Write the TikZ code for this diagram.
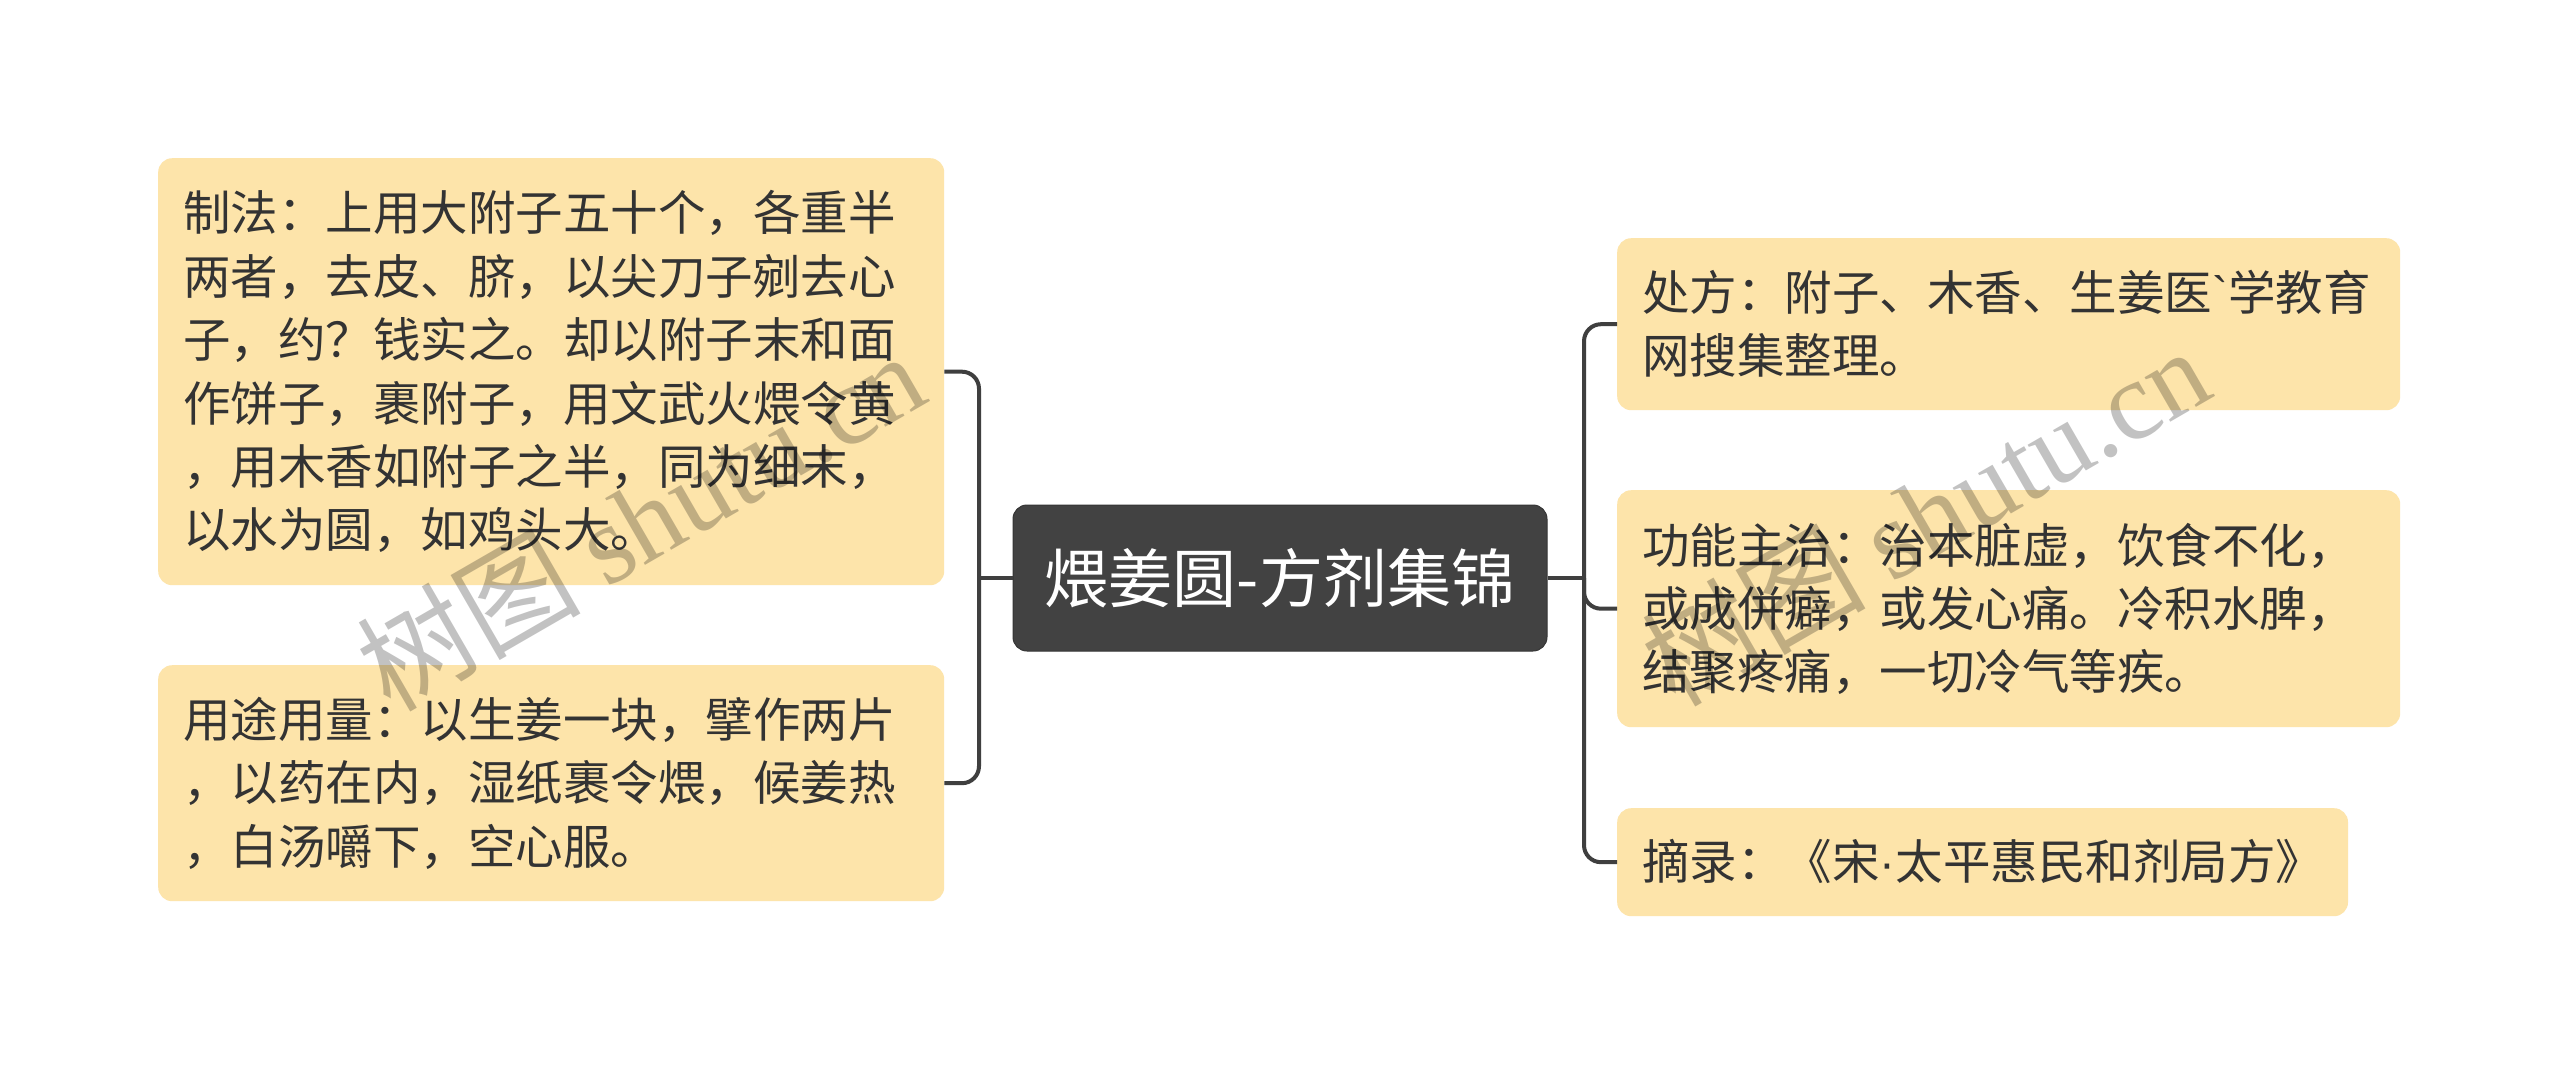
\documentclass[tikz,border=0pt]{standalone}
\usepackage{fontspec}
\usepackage{xcolor}

\newfontfamily\cjk{Noto Sans CJK SC}
\newfontfamily\wmfont{Liberation Serif}
\newfontfamily\narrow{Liberation Sans}

\definecolor{boxfill}{HTML}{FDE4AA}
\definecolor{titlefill}{HTML}{424242}
\definecolor{linkgray}{HTML}{3F3F3F}
\definecolor{inkgray}{HTML}{333333}

% one line slot
\newcommand\ls{\rule[-14pt]{0pt}{63.4pt}}

\begin{document}
\begin{tikzpicture}[x=1pt,y=-1pt,
  leaf/.style={fill=boxfill, rounded corners=14pt, anchor=north west,
    align=left, inner xsep=25pt, inner ysep=0pt, text=inkgray,
    font=\fontsize{47.5}{63.4}\cjk},
  title/.style={fill=titlefill, draw=titlefill!80!black, line width=1pt,
    rounded corners=14pt, text=white, minimum width=534pt,
    minimum height=146pt, font=\fontsize{64}{72}\cjk},
  link/.style={draw=linkgray, line width=4pt, rounded corners=17pt},
  wmark/.style={text=black, opacity=0.24, rotate=30,
    font=\fontsize{112}{120}\cjk}]

\fill[white] (0,0) rectangle (2560,1077);
\useasboundingbox (0,0) rectangle (2560,1077);

% --- centre ---
\node[title] (title) at (1280,578) {煨姜圆-方剂集锦};

% --- left ---
\node[leaf, text width=736pt, minimum height=427pt] (zhifa) at (158,158) {%
\ls 制法：上用大附子五十个，各重半\\
\ls 两者，去皮、脐，以尖刀子剜去心\\
\ls 子，约？钱实之。却以附子末和面\\
\ls 作饼子，裹附子，用文武火煨令黄\\
\ls ，用木香如附子之半，同为细末，\\
\ls 以水为圆，如鸡头大。};

\node[leaf, text width=736pt, minimum height=236pt] (yongtu) at (158,665) {%
\ls 用途用量：以生姜一块，擘作两片\\
\ls ，以药在内，湿纸裹令煨，候姜热\\
\ls ，白汤嚼下，空心服。};

% --- right ---
\node[leaf, text width=733pt, minimum height=172pt] (chufang) at (1617,238) {%
\ls 处方：附子、木香、生姜医{\narrow `}学教育\\
\ls 网搜集整理。};

\node[leaf, text width=733pt, minimum height=237pt] (gongneng) at (1617,490) {%
\ls 功能主治：治本脏虚，饮食不化，\\
\ls 或成併癖，或发心痛。冷积水脾，\\
\ls 结聚疼痛，一切冷气等疾。};

\node[leaf, minimum height=108pt] (zhailu) at (1617,808) {%
\ls 摘录：《宋{\narrow ·}太平惠民和剂局方》};

% --- links ---
\coordinate (lspine) at (979,578);
\coordinate (rspine) at (1584,578);

\draw[link] (title.west) -- (lspine);
\draw[link] (lspine) |- (zhifa.east);
\draw[link] (lspine) |- (yongtu.east);

\draw[link] (title.east) -- (rspine);
\foreach \n in {chufang,gongneng,zhailu}
  \draw[link] (rspine) |- (\n.west);

% --- watermark ---
\node[wmark] (wm1) at (640,520) {树图 {\wmfont shutu.cn}};
\node[wmark] (wm2) at (1925,515) {树图 {\wmfont shutu.cn}};

\end{tikzpicture}
\end{document}
